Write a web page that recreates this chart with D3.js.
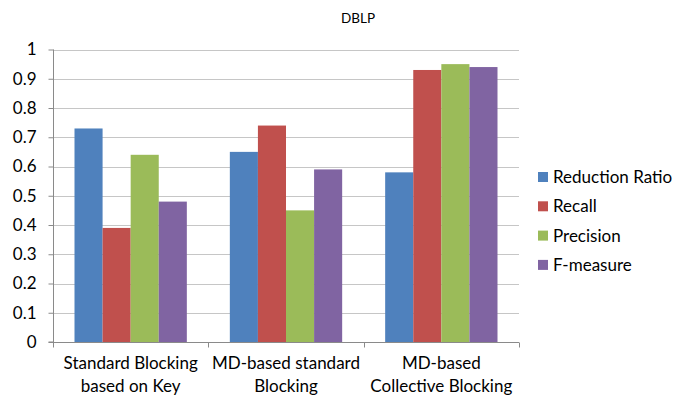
<!DOCTYPE html>
<html>
<head>
<meta charset="utf-8">
<script src="https://cdn.jsdelivr.net/npm/d3@7"></script>
<style>
  body { margin: 0; background: #fff; }
  text { font-family: Lato, "Open Sans", sans-serif; fill: #000; }
</style>
</head>
<body>
<div id="chart"></div>
<script>
// data
const categories = [
  ['Standard Blocking', 'based on Key'],
  ['MD-based standard', 'Blocking'],
  ['MD-based', 'Collective Blocking']
];
const seriesNames = ['Reduction Ratio', 'Recall', 'Precision', 'F-measure'];
const reductionRatio = [0.73, 0.65, 0.58];
const recall = [0.39, 0.74, 0.93];
const precision = [0.64, 0.45, 0.95];
const fMeasure = [0.48, 0.59, 0.94];
const yTicks = [0, 0.1, 0.2, 0.3, 0.4, 0.5, 0.6, 0.7, 0.8, 0.9, 1];

const COLORS = ['#4F81BD', '#C0504D', '#9BBB59', '#8064A2'];
const WIDTH = 676;
const HEIGHT = 398;
const PLOT = { left: 53, right: 519, top: 49.5, bottom: 342 };

const seriesValues = [reductionRatio, recall, precision, fMeasure];

const svg = d3.select('#chart')
  .append('svg')
  .attr('width', WIDTH)
  .attr('height', HEIGHT);

const yScale = d3.scaleLinear()
  .domain([0, 1])
  .range([PLOT.bottom, PLOT.top]);

const xScale = d3.scaleBand()
  .domain(d3.range(categories.length))
  .range([PLOT.left, PLOT.right])
  .paddingInner(0)
  .paddingOuter(0);

const groupPad = 21.5;
const innerScale = d3.scaleBand()
  .domain(d3.range(seriesNames.length))
  .range([groupPad, xScale.bandwidth() - groupPad]);

// gridlines
svg.append('g')
  .selectAll('line')
  .data(yTicks.filter(d => d > 0))
  .join('line')
  .attr('x1', PLOT.left)
  .attr('x2', PLOT.right)
  .attr('y1', d => Math.round(yScale(d)) + 0.5)
  .attr('y2', d => Math.round(yScale(d)) + 0.5)
  .attr('stroke', '#c6c6c6')
  .attr('stroke-width', 1);

// bars
const groups = svg.append('g')
  .selectAll('g')
  .data(categories.map((c, i) => i))
  .join('g')
  .attr('transform', i => `translate(${xScale(i)},0)`);

groups.selectAll('rect')
  .data(i => seriesValues.map((vals, s) => ({ s, v: vals[i] })))
  .join('rect')
  .attr('x', d => innerScale(d.s))
  .attr('width', innerScale.bandwidth())
  .attr('y', d => yScale(d.v))
  .attr('height', d => yScale(0) - yScale(d.v))
  .attr('fill', d => COLORS[d.s]);

// y axis
const yAxis = svg.append('g')
  .attr('transform', `translate(${PLOT.left + 0.5},0)`)
  .call(d3.axisLeft(yScale).tickValues(yTicks).tickSize(5).tickPadding(12)
    .tickFormat(d => d === 0 ? '0' : d === 1 ? '1' : d3.format('.1f')(d)));
yAxis.select('.domain').attr('stroke', '#8a8a8a').attr('d', `M-5,${PLOT.bottom}H0V${PLOT.top}`);
yAxis.selectAll('.tick line').attr('stroke', '#8a8a8a');
yAxis.selectAll('.tick text')
  .attr('font-size', 17)
  .attr('font-family', 'Lato, sans-serif');

// x axis
const xAxisG = svg.append('g')
  .attr('transform', `translate(0,${PLOT.bottom + 0.5})`);
xAxisG.append('line')
  .attr('x1', PLOT.left)
  .attr('x2', PLOT.right)
  .attr('stroke', '#8a8a8a');
xAxisG.selectAll('.xtick')
  .data(d3.range(categories.length + 1))
  .join('line')
  .attr('class', 'xtick')
  .attr('x1', i => Math.round(PLOT.left + i * xScale.step()) + 0.5)
  .attr('x2', i => Math.round(PLOT.left + i * xScale.step()) + 0.5)
  .attr('y1', 0)
  .attr('y2', 5)
  .attr('stroke', '#8a8a8a');

const xLabels = svg.append('g')
  .selectAll('text')
  .data(categories)
  .join('text')
  .attr('x', (d, i) => xScale(i) + xScale.bandwidth() / 2)
  .attr('y', 369)
  .attr('text-anchor', 'middle')
  .attr('font-size', 17);
xLabels.selectAll('tspan')
  .data(d => d)
  .join('tspan')
  .attr('x', function () { return d3.select(this.parentNode).attr('x'); })
  .attr('dy', (d, i) => i === 0 ? 0 : 23)
  .text(d => d);

// title
svg.append('text')
  .attr('x', 358)
  .attr('y', 23)
  .attr('text-anchor', 'middle')
  .attr('font-size', 13.5)
  .text('DBLP');

// legend
const legend = svg.append('g')
  .selectAll('g')
  .data(seriesNames)
  .join('g')
  .attr('transform', (d, i) => `translate(538,${177 + i * 29.3})`);
legend.append('rect')
  .attr('x', 0)
  .attr('y', -5)
  .attr('width', 10)
  .attr('height', 10)
  .attr('fill', (d, i) => COLORS[i]);
legend.append('text')
  .attr('x', 15)
  .attr('y', 6)
  .attr('font-size', 17)
  .text(d => d);
</script>
</body>
</html>
